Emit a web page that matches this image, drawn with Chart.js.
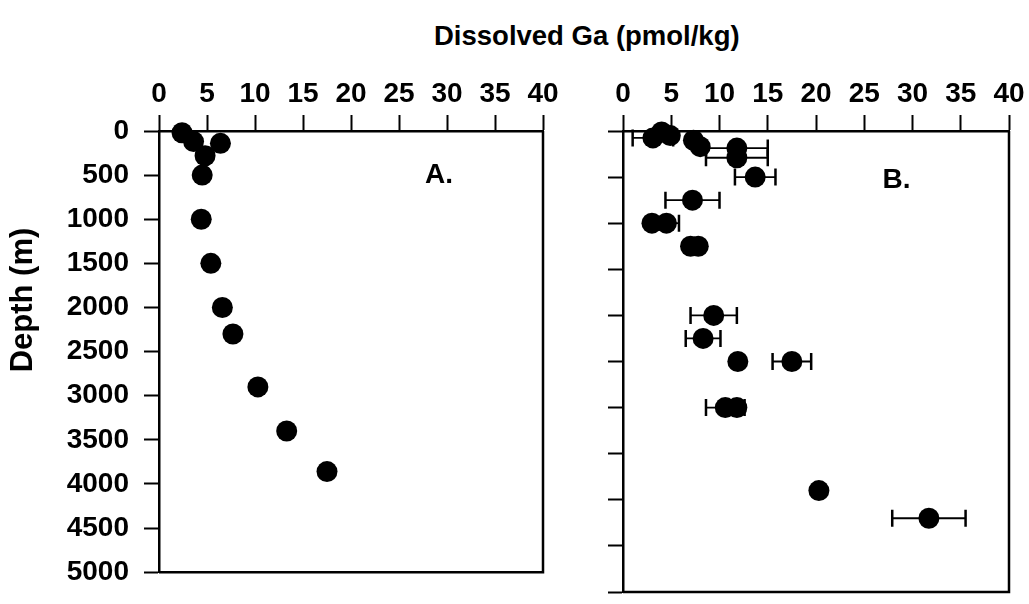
<!DOCTYPE html>
<html><head><meta charset="utf-8">
<script src="https://cdn.jsdelivr.net/npm/chart.js@4.4.0/dist/chart.umd.min.js"></script>
<style>
html,body{margin:0;padding:0;background:#fff;}
#wrap{position:relative;width:1029px;height:604px;overflow:hidden;background:#fff;}
#cA{position:absolute;left:0;top:0;}
#cB{position:absolute;left:580px;top:0;}
#title{position:absolute;left:434px;top:22px;white-space:nowrap;font:bold 27.5px "Liberation Sans";line-height:28px;color:#000;}
</style></head><body>
<div id="wrap">
<div id="title">Dissolved Ga (pmol/kg)</div>
<canvas id="cA" width="580" height="604"></canvas>
<canvas id="cB" width="449" height="604"></canvas>
</div>
<script>
// ---- data ----
const xTicks = [0,5,10,15,20,25,30,35,40];
const depthTicks = [0,500,1000,1500,2000,2500,3000,3500,4000,4500,5000];

const gaA    = [2.4, 3.6, 6.4, 4.8, 4.5, 4.4, 5.4, 6.6, 7.7, 10.3, 13.3, 17.5];
const depthA = [20, 120, 140, 280, 500, 1000, 1500, 2000, 2300, 2900, 3400, 3860];

const gaB    = [4.0, 3.1, 4.9, 7.3, 8.0, 11.8, 11.8, 13.7, 7.2, 3.0, 4.5, 7.0, 7.8, 9.4, 8.3, 11.9, 17.5, 10.6, 11.8, 20.3, 31.7];
const depthB = [10, 75, 50, 100, 170, 185, 290, 500, 750, 1000, 1000, 1250, 1250, 2000, 2250, 2500, 2500, 3000, 3000, 3900, 4200];
const errB   = [0, 2.1, 0, 0, 0, 3.2, 3.2, 2.1, 2.8, 0, 1.3, 0, 0, 2.4, 1.8, 0, 2.0, 2.0, 0, 0, 3.8];

const FONT = "Liberation Sans";

const panelPlugin = {
  id: 'panel',
  beforeDatasetsDraw(chart, args, opts) {
    const ctx = chart.ctx, xS = chart.scales.x, yS = chart.scales.y;
    const pts = chart.data.datasets[0].data;
    const errs = opts.errs || [];
    ctx.save();
    ctx.strokeStyle = '#000';
    errs.forEach((e, i) => {
      if (!e) return;
      const p = pts[i];
      const y = yS.getPixelForValue(p.y);
      const x1 = xS.getPixelForValue(p.x - e), x2 = xS.getPixelForValue(p.x + e);
      ctx.lineWidth = 1.8;
      ctx.beginPath(); ctx.moveTo(x1, y); ctx.lineTo(x2, y); ctx.stroke();
      ctx.lineWidth = 2.5;
      ctx.beginPath();
      ctx.moveTo(x1, y - 8.5); ctx.lineTo(x1, y + 8.5);
      ctx.moveTo(x2, y - 8.5); ctx.lineTo(x2, y + 8.5);
      ctx.stroke();
    });
    ctx.restore();
  },
  afterDraw(chart, args, opts) {
    const ctx = chart.ctx, a = chart.chartArea, xS = chart.scales.x, yS = chart.scales.y;
    ctx.save();
    ctx.strokeStyle = '#000';
    ctx.lineWidth = 2.5;
    ctx.beginPath();
    ctx.moveTo(a.left, a.bottom); ctx.lineTo(a.right, a.bottom); ctx.lineTo(a.right, a.top);
    ctx.stroke();
    ctx.fillStyle = '#000';
    ctx.font = "bold 28px '" + FONT + "'";
    ctx.textAlign = 'left';
    ctx.textBaseline = 'alphabetic';
    ctx.fillText(opts.letter, xS.getPixelForValue(opts.letterX), yS.getPixelForValue(opts.letterY));
    if (opts.yTitle) {
      ctx.translate(23, 300);
      ctx.rotate(-Math.PI / 2);
      ctx.textAlign = 'center';
      ctx.textBaseline = 'middle';
      ctx.font = "bold 31px '" + FONT + "'";
      ctx.fillText(opts.yTitle, 0, 0);
    }
    ctx.restore();
  }
};

function makePanel(id, xs, ys, errs, letter, lx, ly, yTitle, showYLabels, yWidth, padRight) {
  const pts = xs.map((v, i) => ({x: v, y: ys[i]}));
  return new Chart(document.getElementById(id), {
    type: 'scatter',
    data: { datasets: [{ data: pts, pointRadius: 10.5, pointHoverRadius: 10.5,
      backgroundColor: '#000', borderColor: '#000', borderWidth: 0, clip: false }] },
    options: {
      responsive: false, animation: false,
      layout: { padding: { left: 0, top: 0, right: padRight, bottom: 12 } },
      plugins: { legend: { display: false }, tooltip: { enabled: false },
        panel: { errs: errs, letter: letter, letterX: lx, letterY: ly, yTitle: yTitle } },
      scales: {
        x: {
          type: 'linear', position: 'top', min: 0, max: 40,
          afterBuildTicks: s => { s.ticks = xTicks.map(v => ({value: v})); },
          afterFit: s => { s.height = 131; },
          ticks: { color: '#000', font: { family: FONT, size: 28, weight: 'bold' }, padding: 4, maxRotation: 0,
                   callback: v => String(v) },
          grid: { drawOnChartArea: false, drawTicks: true, tickLength: 16, tickWidth: 2, color: '#000' },
          border: { display: true, color: '#000', width: 2.5 }
        },
        y: {
          type: 'linear', position: 'left', reverse: true, min: 0, max: 5000,
          afterBuildTicks: s => { s.ticks = depthTicks.map(v => ({value: v})); },
          afterFit: s => { s.width = yWidth; },
          ticks: { display: showYLabels, color: '#000', font: { family: FONT, size: 28, weight: 'bold' }, padding: 15,
                   callback: v => String(v) },
          grid: { drawOnChartArea: false, drawTicks: true, tickLength: 15, tickWidth: 2, color: '#000' },
          border: { display: true, color: '#000', width: 2.5 }
        }
      }
    },
    plugins: [panelPlugin]
  });
}

makePanel('cA', gaA, depthA, [], 'A.', 27.7, 586, 'Depth (m)', true, 159, 37);
makePanel('cB', gaB, depthB, errB, 'B.', 26.9, 618, null, false, 43, 20);
</script>
</body></html>
